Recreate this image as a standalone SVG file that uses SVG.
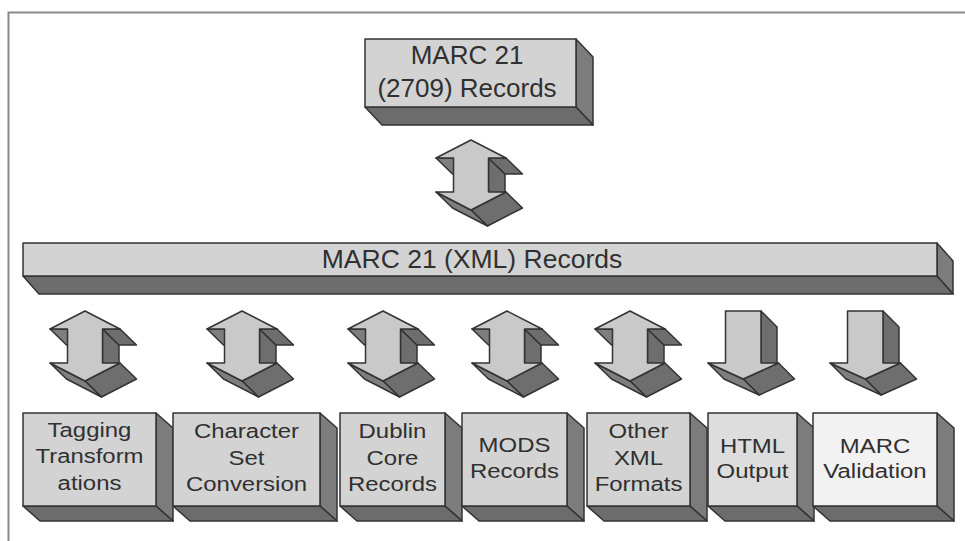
<svg xmlns="http://www.w3.org/2000/svg" width="965" height="541" viewBox="0 0 965 541">
<style>
.ol{stroke:#333;stroke-width:1.5;stroke-linejoin:round}
.fr{fill:#d3d3d3}
.sd{fill:#7c7c7c}
.bt{fill:#6c6c6c}
.lt{fill:#c9c9c9}
.dk{fill:#6e6e6e}
.dk2{fill:#7e7e7e}
text{font-family:"Liberation Sans",Arial,sans-serif;fill:#303030;text-anchor:middle}
.t1{font-size:26px}
.t2{font-size:26.5px}
.t3{font-size:21px}
</style>
<defs>
<g id="dbl">
<path class="ol dk" d="M52.5,18 L52.5,52 L69,68 L69,34 Z"/>
<path class="ol dk" d="M70,18 L52.5,18 L69,34 L86.5,34 Z"/>
<path class="ol dk2" d="M17.5,18 L0,18 L16.5,34 L34,34 Z"/>
<path class="ol dk" d="M70,52 L35,70 L51.5,86 L86.5,68 Z"/>
<path class="ol dk2" d="M35,70 L0,52 L16.5,68 L51.5,86 Z"/>
<path class="ol lt" d="M35,0 L70,18 L52.5,18 L52.5,52 L70,52 L35,70 L0,52 L17.5,52 L17.5,18 L0,18 Z"/>
</g>
<g id="sgl">
<path class="ol dk" d="M53,0 L69,16 L69,68 L53,52 Z"/>
<path class="ol dk" d="M70.5,52 L35.25,68 L51.25,84 L86.5,68 Z"/>
<path class="ol dk2" d="M35.25,68 L0,52 L16,68 L51.25,84 Z"/>
<path class="ol lt" d="M17.5,0 L53,0 L53,52 L70.5,52 L35.25,68 L0,52 L17.5,52 Z"/>
</g>
</defs>
<rect width="965" height="541" fill="#fff"/>
<path d="M8.5,541 L8.5,12.5 L965,12.5" fill="none" stroke="#8a8a8a" stroke-width="2"/>

<g id="connectors">
<use href="#dbl" transform="translate(436,140)"/>
<use href="#dbl" transform="translate(50,311)"/>
<use href="#dbl" transform="translate(207,311)"/>
<use href="#dbl" transform="translate(348,311)"/>
<use href="#dbl" transform="translate(472,311)"/>
<use href="#dbl" transform="translate(595,311)"/>
<use href="#sgl" transform="translate(708,311)"/>
<use href="#sgl" transform="translate(830,311)"/>
</g>

<g id="marc2709">
<path class="ol sd" d="M576,39 L593,57 L593,125 L576,107 Z"/>
<path class="ol bt" d="M365,107 L576,107 L593,125 L382,125 Z"/>
<rect class="ol fr" x="365" y="39" width="211" height="68"/>
<text class="t1" x="467" y="64">MARC 21</text>
<text class="t1" x="467" y="97">(2709) Records</text>
</g>

<g id="marcxml">
<path class="ol sd" d="M937,243 L953,261 L953,294 L937,276 Z"/>
<path class="ol bt" d="M23,276 L937,276 L953,294 L39,294 Z"/>
<rect class="ol fr" x="23" y="243" width="914" height="33"/>
<text class="t2" x="472" y="268">MARC 21 (XML) Records</text>
</g>

<g id="tagging">
<path class="ol sd" d="M156,413 L173,428 L173,521 L156,506 Z"/>
<path class="ol bt" d="M23,506 L156,506 L173,521 L40,521 Z"/>
<rect class="ol fr" x="23" y="413" width="133" height="93"/>
<g transform="translate(89.5,0) scale(1.14,1)">
<text class="t3" x="0" y="437">Tagging</text>
<text class="t3" x="0" y="463">Transform</text>
<text class="t3" x="0" y="490">ations</text>
</g>
</g>

<g id="charset">
<path class="ol sd" d="M320,413 L337,428 L337,521 L320,506 Z"/>
<path class="ol bt" d="M173,506 L320,506 L337,521 L190,521 Z"/>
<rect class="ol fr" x="173" y="413" width="147" height="93"/>
<g transform="translate(246.5,0) scale(1.14,1)">
<text class="t3" x="0" y="438">Character</text>
<text class="t3" x="0" y="465">Set</text>
<text class="t3" x="0" y="491">Conversion</text>
</g>
</g>

<g id="dublin">
<path class="ol sd" d="M445,413 L462,428 L462,521 L445,506 Z"/>
<path class="ol bt" d="M340,506 L445,506 L462,521 L357,521 Z"/>
<rect class="ol fr" x="340" y="413" width="105" height="93"/>
<g transform="translate(392.5,0) scale(1.14,1)">
<text class="t3" x="0" y="438">Dublin</text>
<text class="t3" x="0" y="465">Core</text>
<text class="t3" x="0" y="491">Records</text>
</g>
</g>

<g id="mods">
<path class="ol sd" d="M567,413 L584,428 L584,521 L567,506 Z"/>
<path class="ol bt" d="M462,506 L567,506 L584,521 L479,521 Z"/>
<rect class="ol fr" x="462" y="413" width="105" height="93"/>
<g transform="translate(514.5,0) scale(1.14,1)">
<text class="t3" x="0" y="452">MODS</text>
<text class="t3" x="0" y="478">Records</text>
</g>
</g>

<g id="otherxml">
<path class="ol sd" d="M690,413 L707,428 L707,521 L690,506 Z"/>
<path class="ol bt" d="M587,506 L690,506 L707,521 L604,521 Z"/>
<rect class="ol fr" x="587" y="413" width="103" height="93"/>
<g transform="translate(638.5,0) scale(1.14,1)">
<text class="t3" x="0" y="438">Other</text>
<text class="t3" x="0" y="465">XML</text>
<text class="t3" x="0" y="491">Formats</text>
</g>
</g>

<g id="html">
<path class="ol sd" d="M797,413 L814,428 L814,521 L797,506 Z"/>
<path class="ol bt" d="M708,506 L797,506 L814,521 L725,521 Z"/>
<rect class="ol" fill="#dddddd" x="708" y="413" width="89" height="93"/>
<g transform="translate(752.5,0) scale(1.14,1)">
<text class="t3" x="0" y="453">HTML</text>
<text class="t3" x="0" y="478">Output</text>
</g>
</g>

<g id="validation">
<path class="ol sd" d="M937,413 L954,428 L954,521 L937,506 Z"/>
<path class="ol bt" d="M813,506 L937,506 L954,521 L830,521 Z"/>
<rect class="ol" fill="#f2f2f2" x="813" y="413" width="124" height="93"/>
<g transform="translate(875,0) scale(1.14,1)">
<text class="t3" x="0" y="453">MARC</text>
<text class="t3" x="0" y="478">Validation</text>
</g>
</g>
</svg>
